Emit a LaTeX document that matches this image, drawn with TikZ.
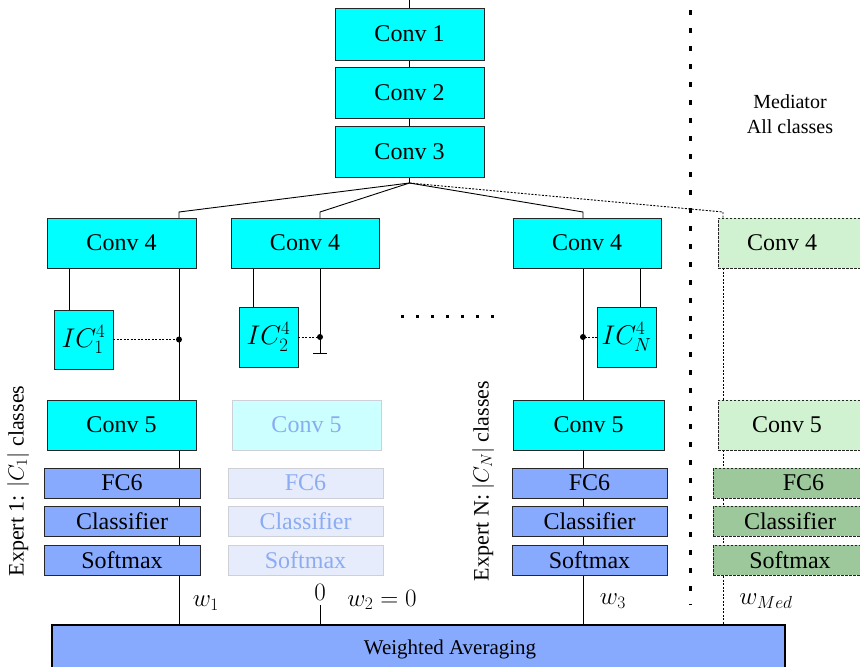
\RequirePackage{fix-cm}
\documentclass[tikz,border=0pt]{standalone}
\usepackage{fontspec}
\setmainfont{Liberation Serif}
\newfontfamily\tnr{Liberation Serif}
\usetikzlibrary{backgrounds}
\definecolor{cyanbox}{RGB}{0,255,255}
\definecolor{cyanfade}{RGB}{204,255,255}
\definecolor{bluebox}{RGB}{135,170,255}
\definecolor{bluefade}{RGB}{230,236,252}
\definecolor{fadeborder}{RGB}{205,208,215}
\definecolor{fadetext}{RGB}{140,172,242}
\definecolor{greenlight}{RGB}{208,242,208}
\definecolor{greendark}{RGB}{156,200,156}
\newcommand\bx[7]{\node[#6, minimum width={(#4-#2)*1pt}, minimum height={(#5-#3)*1pt}] (#1) at (#2,#3) {#7};}
\begin{document}
\begin{tikzpicture}[x=1pt,y=-1pt,
  box/.style={draw=black!85, line width=0.9pt, inner sep=0pt, outer sep=0pt, anchor=north west, font=\tnr\fontsize{24}{28}\selectfont},
  conv/.style={box, fill=cyanbox},
  fc/.style={box, fill=bluebox},
  convfade/.style={box, fill=cyanfade, draw=fadeborder, text=fadetext},
  fcfade/.style={box, fill=bluefade, draw=fadeborder, text=fadetext},
  medconv/.style={box, fill=greenlight, dash pattern=on 2.5pt off 1.5pt},
  medfc/.style={box, fill=greendark, dash pattern=on 2.5pt off 1.5pt},
  icbox/.style={box, fill=cyanbox, font=\fontsize{27}{30}\selectfont},
  wire/.style={line width=0.9pt},
  dotwire/.style={line width=0.9pt, dash pattern=on 2pt off 1.5pt},
  lbl/.style={font=\tnr\fontsize{22}{26}\selectfont, inner sep=0pt},
  mlbl/.style={font=\fontsize{25}{28}\selectfont, inner sep=0pt},
  jdot/.style={circle, fill=black, inner sep=0pt, minimum size=6pt}
]
\clip (0,0) rectangle (860,667);
\useasboundingbox (0,0) rectangle (860,667);

% top column
\bx{c1}{335}{8}{484}{60}{conv}{Conv 1}
\bx{c2}{335}{67}{484}{118}{conv}{Conv 2}
\bx{c3}{335}{126}{484}{177}{conv}{Conv 3}

% conv4 row
\bx{a4}{47}{218}{196}{268}{conv}{Conv 4}
\bx{b4}{231}{218}{379}{268}{conv}{Conv 4}
\bx{n4}{513}{218}{661}{268}{conv}{Conv 4}
\bx{m4}{718}{218}{880}{268}{medconv}{\hspace*{-34pt}Conv 4}

% IC boxes
\bx{ica}{54}{310}{113}{369}{icbox}{$IC_1^4$}
\bx{icb}{239}{307}{298}{367}{icbox}{$IC_2^4$}
\bx{icn}{597}{307}{656}{367}{icbox}{$IC_N^4$}

% conv5 row
\bx{a5}{47}{400}{196}{450}{conv}{Conv 5}
\bx{b5}{232}{400}{381}{450}{convfade}{Conv 5}
\bx{n5}{513}{400}{664}{450}{conv}{Conv 5}
\bx{m5}{718}{400}{880}{450}{medconv}{\hspace*{-24pt}Conv 5}

% FC6
\bx{a6}{44}{468}{200}{498}{fc}{FC6}
\bx{b6}{228}{468}{383}{498}{fcfade}{FC6}
\bx{n6}{512}{468}{667}{498}{fc}{FC6}
\bx{m6}{713}{468}{880}{498}{medfc}{\hspace*{14pt}FC6}

% Classifier
\bx{a7}{44}{506}{200}{536}{fc}{Classifier}
\bx{b7}{228}{506}{383}{536}{fcfade}{Classifier}
\bx{n7}{512}{506}{667}{536}{fc}{Classifier}
\bx{m7}{713}{506}{880}{536}{medfc}{\hspace*{-13pt}Classifier}

% Softmax
\bx{a8}{44}{545}{200}{575}{fc}{Softmax}
\bx{b8}{228}{545}{383}{575}{fcfade}{Softmax}
\bx{n8}{512}{545}{667}{575}{fc}{Softmax}
\bx{m8}{713}{545}{880}{575}{medfc}{\hspace*{-13pt}Softmax}

% weighted averaging
\node[box, fill=bluebox, line width=2pt, draw=black, minimum width=733pt, minimum height=60pt] (wa) at (52,625) {};
\node[font=\tnr\fontsize{21}{25}\selectfont, inner sep=0pt] (watext) at (450,649) {Weighted Averaging};

% coordinates
\coordinate (top) at (409.5,0);
\coordinate (J) at (409.5,183);
\coordinate (sa) at (179,212);
\coordinate (sb) at (320,212);
\coordinate (sn) at (583,212);
\coordinate (sm) at (723,212);
\coordinate (tb) at (320,353);
\coordinate (tbl) at (313,353);
\coordinate (tbr) at (327,353);
\coordinate (zb) at (320,605);

\begin{pgfonlayer}{background}
\draw[wire] (top) -- (c1.north);
\draw[wire] (c1.south) -- (c2.north);
\draw[wire] (c2.south) -- (c3.north);
\draw[wire] (c3.south) -- (J);
\draw[wire] (J) -- (sa) -- (sa |- a4.north);
\draw[wire] (J) -- (sb) -- (sb |- b4.north);
\draw[wire] (J) -- (sn) -- (sn |- n4.north);
\draw[dotwire] (J) -- (sm) -- (sm |- m4.north);
% verticals
\draw[wire] (sa |- a4.south) -- (sa |- wa.north);
\draw[wire] (sn |- n4.south) -- (sn |- wa.north);
\draw[dotwire] (sm |- m4.south) -- (sm |- wa.north);
\draw[wire] (sb |- b4.south) -- (tb);
\draw[wire] (tbl) -- (tbr);
\draw[wire] (zb) -- (sb |- wa.north);
% IC links
\draw[wire] (ica.north -| 69,0) -- (69,268);
\draw[wire] (icb.north -| 253,0) -- (253,268);
\draw[wire] (icn.north -| 640,0) -- (640,268);
\end{pgfonlayer}

\draw[dotwire] (ica.east) -- (ica.east -| sa);
\node[jdot] (da) at (ica.east -| sa) {};
\draw[dotwire] (icb.east) -- (icb.east -| sb);
\node[jdot] (db) at (icb.east -| sb) {};
\draw[dotwire] (icn.west) -- (icn.west -| sn);
\node[jdot] (dn) at (icn.west -| sn) {};

% ellipsis dots
\foreach \i in {0,...,6} { \fill (402+\i*15-1.5,314.5) rectangle ++(3,3); }

% mediator separator
\draw[line width=3pt, dash pattern=on 5pt off 13pt] (690,10) -- (690,605);

% labels
\node[font=\tnr\fontsize{20}{25}\selectfont, align=center, inner sep=0pt] (med) at (790,114) {Mediator\\All classes};
\node[lbl, rotate=90] (ex1) at (18,481) {Expert 1: $|C_1|$ classes};
\node[lbl, rotate=90] (exn) at (483,481) {Expert N: $|C_N|$ classes};
\node[mlbl] (w1) at (206,603) {$w_1$};
\node[mlbl] (w0) at (320,592) {$0$};
\node[mlbl] (w2) at (382,600) {$w_2=0$};
\node[mlbl] (w3) at (613,601) {$w_3$};
\node[mlbl] (wm) at (766,601) {$w_{Med}$};
\end{tikzpicture}
\end{document}
